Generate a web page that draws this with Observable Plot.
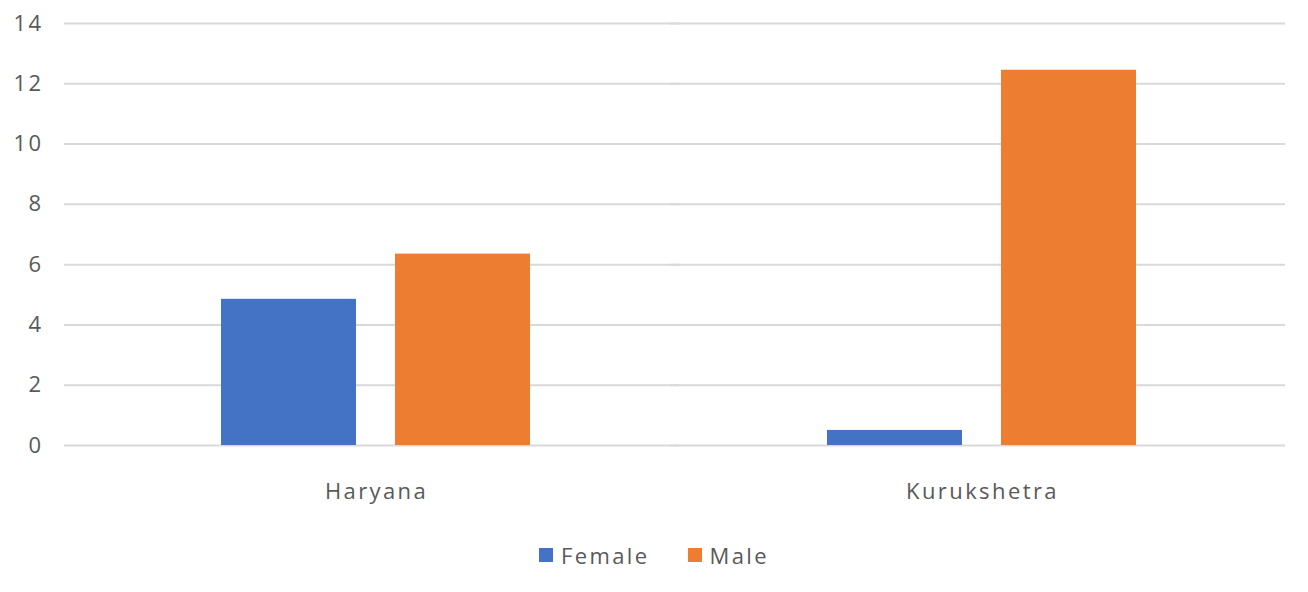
<!DOCTYPE html>
<html>
<head>
<meta charset="utf-8">
<script src="https://cdn.jsdelivr.net/npm/d3@7"></script>
<script src="https://cdn.jsdelivr.net/npm/@observablehq/plot@0.6"></script>
<style>
  html, body { margin: 0; padding: 0; background: #ffffff; }
  body { width: 1308px; font-family: "Open Sans", sans-serif; color: #595959; }
  .legend { display: flex; justify-content: center; align-items: center; gap: 38px;
            margin-top: 21px; font-size: 22px; letter-spacing: 2.4px; line-height: 28px; }
  .legend span.item { display: inline-flex; align-items: center; }
  .legend i { display: inline-block; width: 14px; height: 14px; margin-right: 8px; }
</style>
</head>
<body>
<div id="chart"></div>
<script>
// Regions and the two series plotted per region
const regions = ["Haryana", "Kurukshetra"];
const sexes = ["Female", "Male"];
const femaleValues = [4.85, 0.5];
const maleValues = [6.35, 12.45];
const colors = ["#4472C4", "#ED7D31"];
const yTicks = [0, 2, 4, 6, 8, 10, 12, 14];

const rows = regions.flatMap((region, i) => [
  {region, sex: "Female", value: femaleValues[i]},
  {region, sex: "Male", value: maleValues[i]}
]);

const chart = Plot.plot({
  width: 1308,
  height: 520,
  marginLeft: 72,
  marginRight: 23,
  marginTop: 23,
  marginBottom: 75,
  style: {fontFamily: "Open Sans", fontSize: "22px", color: "#595959", letterSpacing: "2.4px", background: "#ffffff"},
  fx: {domain: regions, padding: 0, label: null, axis: "bottom", tickSize: 0, tickPadding: 38},
  x: {domain: sexes, paddingInner: 0.223, paddingOuter: 0.843, axis: null},
  y: {domain: [0, 14], ticks: 7, tickSize: 0, tickPadding: 30, label: null},
  color: {domain: sexes, range: colors},
  marks: [
    Plot.ruleY(yTicks, {stroke: "#d9d9d9", strokeWidth: 2, insetLeft: -9}),
    Plot.barY(rows, {fx: "region", x: "sex", y: "value", fill: "sex"})
  ]
});
document.getElementById("chart").appendChild(chart);

// Legend row below the chart
const legend = document.createElement("div");
legend.className = "legend";
sexes.forEach((s, i) => {
  const item = document.createElement("span");
  item.className = "item";
  const sw = document.createElement("i");
  sw.style.background = colors[i];
  item.appendChild(sw);
  item.appendChild(document.createTextNode(s));
  legend.appendChild(item);
});
document.body.appendChild(legend);
</script>
</body>
</html>
